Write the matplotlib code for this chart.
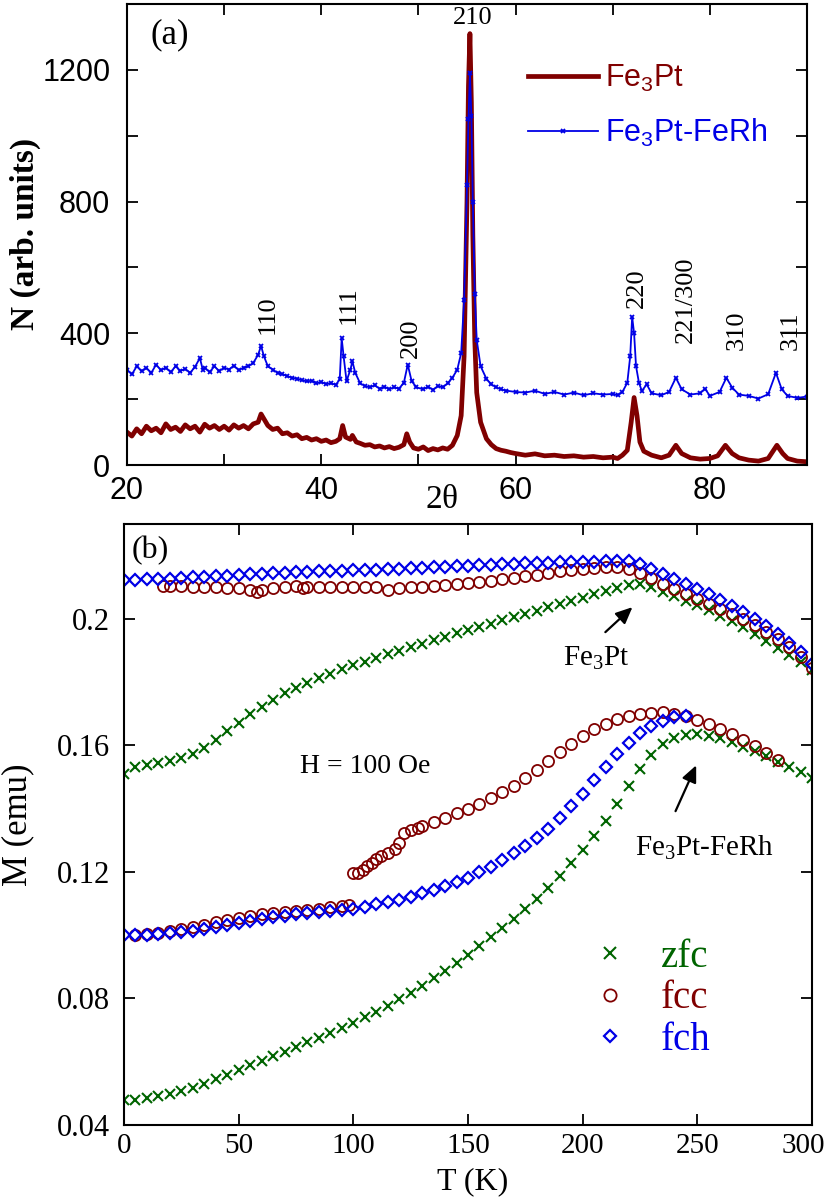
import matplotlib
matplotlib.use('Agg')
import matplotlib.pyplot as plt
from matplotlib.ticker import MultipleLocator

plt.rcParams['font.family'] = 'Liberation Serif'
plt.rcParams['mathtext.default'] = 'regular'

RED = '#800000'
BLUE = '#0000e6'
GREEN = '#006400'

# ---- panel (a): XRD ----
tt_pt = [20, 20.5, 21, 21.5, 22, 22.5, 23, 23.5, 24, 24.5, 25, 25.5, 26, 26.5, 27, 27.5, 28, 28.5, 29, 29.5,
         30, 30.5, 31, 31.5, 32, 32.5, 33, 33.5, 33.8, 34.1, 34.5, 35, 35.5, 36, 36.5, 37, 37.5, 38, 38.5, 39, 39.5,
         40, 40.5, 41, 41.5, 41.9, 42.2, 42.5, 43, 43.2, 43.6, 44, 44.5, 45, 45.5, 46, 46.5, 47, 47.5, 48, 48.5, 48.8, 49.1, 49.5,
         50, 50.5, 51, 51.5, 52, 52.5, 53, 53.5, 54, 54.4, 54.7, 55.0, 55.15, 55.3, 55.45, 55.6, 55.8, 56.0, 56.4, 57, 57.5, 58, 58.5, 59, 59.5,
         60, 61, 62, 63, 64, 65, 66, 67, 68, 69, 70, 70.5, 71, 71.5, 71.9, 72.2, 72.5, 72.8, 73.2, 74, 75, 75.8, 76.5, 77.1, 78, 79,
         80, 80.8, 81.6, 82.3, 83, 84, 85, 86, 86.9, 87.5, 88, 89, 90]
counts_pt = [100, 88, 110, 95, 118, 104, 112, 98, 125, 108, 115, 102, 122, 110, 118, 100, 124, 112, 120, 108,
             118, 106, 122, 112, 120, 110, 125, 130, 155, 140, 120, 108, 112, 95, 98, 88, 92, 80, 84, 76, 80,
             72, 76, 68, 72, 80, 120, 85, 78, 90, 70, 66, 60, 62, 55, 58, 52, 56, 50, 54, 62, 95, 70, 52,
             48, 55, 44, 50, 46, 52, 48, 60, 90, 150, 330, 800, 1150, 1310, 1100, 700, 380, 220, 130, 80, 62, 50, 45, 42, 38,
             35, 30, 34, 28, 30, 26, 28, 24, 26, 22, 24, 20, 30, 45, 130, 205, 150, 70, 42, 30, 22, 30, 60, 35, 22, 18,
             20, 28, 60, 35, 22, 15, 12, 20, 60, 35, 20, 12, 10]

tt_rh = [20, 20.5, 21, 21.5, 22, 22.5, 23, 23.5, 24, 24.5, 25, 25.5, 26, 26.5, 27, 27.5, 27.8, 28, 28.5, 29, 29.5,
         30, 30.5, 31, 31.5, 32, 32.5, 33, 33.5, 33.8, 34.1, 34.5, 35, 35.5, 36, 36.5, 37, 37.5, 38, 38.5, 39, 39.5,
         40, 40.5, 41, 41.5, 41.9, 42.1, 42.3, 42.6, 43.0, 43.2, 43.5, 44, 44.5, 45, 45.5, 46, 46.5, 47, 47.5, 48, 48.5, 48.9, 49.3, 49.8,
         50.5, 51, 51.5, 52, 52.5, 53, 53.5, 54, 54.4, 54.7, 55.0, 55.15, 55.3, 55.45, 55.6, 55.8, 56.0, 56.4, 57, 57.5, 58, 58.5, 59,
         60, 61, 62, 63, 64, 65, 66, 67, 68, 69, 70, 70.5, 71, 71.5, 71.8, 72.0, 72.2, 72.4, 72.7, 73.0, 73.5, 74, 75, 75.8, 76.5, 77.1, 78, 79, 79.5,
         80, 81, 81.7, 82.3, 83, 84, 85, 86, 86.8, 87.4, 88, 89, 90]
counts_rh = [290, 275, 300, 285, 295, 280, 305, 288, 296, 282, 300, 286, 292, 280, 298, 325, 290, 296, 282, 300, 285,
             296, 290, 302, 288, 296, 300, 310, 335, 362, 330, 300, 290, 280, 276, 270, 265, 262, 258, 254, 256, 248,
             252, 246, 248, 244, 260, 385, 330, 255, 290, 315, 280, 248, 240, 236, 242, 232, 238, 230, 236, 232, 250, 305, 255, 236,
             230, 238, 228, 240, 236, 248, 265, 290, 340, 500, 850, 1050, 1190, 1060, 800, 520, 380, 300, 262, 245, 236, 230, 226,
             222, 220, 226, 216, 222, 214, 220, 212, 218, 214, 216, 212, 222, 250, 330, 450, 400, 300, 250, 225, 245, 218, 212, 222, 265, 230, 214, 218, 232,
             210, 222, 265, 235, 214, 210, 202, 215, 280, 230, 210, 204, 208]

peak_labels = ['110', '111', '200', '220', '221/300', '310', '311']
peak_x = [34.5, 42.8, 49.2, 72.5, 77.5, 82.8, 88.3]
peak_y = [398, 429, 326, 477, 371, 350, 350]

# ---- panel (b): M(T) ----
T5 = [0, 5, 10, 15, 20, 25, 30, 35, 40, 45, 50, 55, 60, 65, 70, 75, 80, 85, 90, 95,
      100, 105, 110, 115, 120, 125, 130, 135, 140, 145, 150, 155, 160, 165, 170, 175, 180, 185, 190, 195,
      200, 205, 210, 215, 220, 225, 230, 235, 240, 245, 250, 255, 260, 265, 270, 275, 280, 285, 290, 295, 300]

zfc_low = [0.0478, 0.0480, 0.0484, 0.0490, 0.0497, 0.0506, 0.0517, 0.0530, 0.0544, 0.0559,
           0.0575, 0.0589, 0.0603, 0.0617, 0.0631, 0.0646, 0.0661, 0.0676, 0.0691, 0.0706,
           0.0722, 0.0740, 0.0758, 0.0777, 0.0797, 0.0818, 0.0840, 0.0863, 0.0887, 0.0912,
           0.0938, 0.0965, 0.0993, 0.1022, 0.1052, 0.1083, 0.1115, 0.1150, 0.1187, 0.1227,
           0.1270, 0.1315, 0.1362, 0.1415, 0.1470, 0.1525, 0.1570, 0.1603, 0.1622, 0.1632,
           0.1635, 0.1630, 0.1622, 0.1610, 0.1596, 0.1582, 0.1566, 0.1549, 0.1532, 0.1515,
           0.1497]
zfc_high = [0.1510, 0.1533, 0.1538, 0.1543, 0.1550, 0.1560, 0.1574, 0.1593, 0.1617, 0.1645,
            0.1672, 0.1698, 0.1722, 0.1744, 0.1764, 0.1782, 0.1798, 0.1813, 0.1827, 0.1840,
            0.1853, 0.1865, 0.1877, 0.1888, 0.1899, 0.1910, 0.1921, 0.1932, 0.1943, 0.1954,
            0.1964, 0.1975, 0.1985, 0.1995, 0.2005, 0.2016, 0.2026, 0.2036, 0.2046, 0.2057,
            0.2067, 0.2078, 0.2088, 0.2098, 0.2106, 0.2110, 0.2100, 0.2086, 0.2072, 0.2058,
            0.2043, 0.2027, 0.2010, 0.1992, 0.1973, 0.1952, 0.1930, 0.1908, 0.1886, 0.1862,
            0.1838]
fch_high = [0.2124, 0.2124, 0.2125, 0.2126, 0.2127, 0.2129, 0.2131, 0.2133, 0.2135, 0.2137,
            0.2139, 0.2141, 0.2142, 0.2144, 0.2145, 0.2147, 0.2148, 0.2150, 0.2151, 0.2152,
            0.2153, 0.2155, 0.2156, 0.2157, 0.2158, 0.2160, 0.2161, 0.2163, 0.2164, 0.2166,
            0.2167, 0.2169, 0.2170, 0.2172, 0.2173, 0.2175, 0.2177, 0.2178, 0.2179, 0.2180,
            0.2181, 0.2181, 0.2182, 0.2183, 0.2182, 0.2172, 0.2158, 0.2143, 0.2127, 0.2111,
            0.2095, 0.2078, 0.2061, 0.2042, 0.2022, 0.2000, 0.1976, 0.1951, 0.1925, 0.1894,
            0.1858]

T_fch_low = T5[:50]
fch_low = [0.1000, 0.1000, 0.1001, 0.1004, 0.1007, 0.1010, 0.1014, 0.1020, 0.1026, 0.1033,
           0.1040, 0.1046, 0.1052, 0.1057, 0.1062, 0.1066, 0.1070, 0.1074, 0.1077, 0.1080,
           0.1084, 0.1090, 0.1097, 0.1104, 0.1112, 0.1122, 0.1133, 0.1143, 0.1154, 0.1167,
           0.1182, 0.1199, 0.1217, 0.1237, 0.1259, 0.1283, 0.1308, 0.1337, 0.1370, 0.1407,
           0.1447, 0.1489, 0.1531, 0.1572, 0.1608, 0.1638, 0.1661, 0.1678, 0.1689, 0.1692]

T_fcc_high = [17, 20, 25, 30, 35, 40, 45, 50, 55, 58, 60, 65, 70, 75, 78, 80, 85, 90, 95, 100,
              105, 110, 115, 120, 125, 130, 135, 140, 145, 150, 155, 160, 165, 170, 175, 180, 185, 190, 195, 200,
              205, 210, 215, 220, 225, 230, 235, 240, 245, 250, 255, 260, 265, 270, 275, 280, 285, 290, 295, 300]
fcc_high = [0.2105, 0.2104, 0.2103, 0.2102, 0.2101, 0.2100, 0.2098, 0.2097, 0.2092, 0.2086,
            0.2092, 0.2096, 0.2100, 0.2104, 0.2098, 0.2101, 0.2101, 0.2101, 0.2102, 0.2102,
            0.2102, 0.2100, 0.2091, 0.2097, 0.2100, 0.2102, 0.2105, 0.2107, 0.2109, 0.2112,
            0.2116, 0.2120, 0.2125, 0.2130, 0.2135, 0.2140, 0.2145, 0.2150, 0.2155, 0.2159,
            0.2162, 0.2165, 0.2165, 0.2158, 0.2146, 0.2128, 0.2110, 0.2094, 0.2078, 0.2062,
            0.2047, 0.2032, 0.2016, 0.2000, 0.1980, 0.1958, 0.1935, 0.1910, 0.1880, 0.1845]

T_fcc_low = [5, 10, 15, 20, 25, 30, 35, 40, 45, 50, 55, 60, 65, 70, 75, 80, 85, 90, 95, 98,
             100, 102, 104, 106, 108, 110, 112, 115, 118, 120, 122, 125, 128, 130,
             135, 140, 145, 150, 155, 160, 165, 170, 175, 180, 185, 190, 195, 200, 205, 210,
             215, 220, 225, 230, 235, 240, 245, 250, 255, 260, 265, 270, 275, 280, 285]
fcc_low = [0.1000, 0.1003, 0.1007, 0.1012, 0.1018, 0.1025, 0.1033, 0.1041, 0.1048, 0.1055,
           0.1061, 0.1066, 0.1070, 0.1073, 0.1076, 0.1080, 0.1084, 0.1088, 0.1092, 0.1094,
           0.1196, 0.1197, 0.1205, 0.1220, 0.1228, 0.1240, 0.1250, 0.1260, 0.1272, 0.1290,
           0.1322, 0.1334, 0.1340, 0.1345,
           0.1357, 0.1370, 0.1385, 0.1400, 0.1416, 0.1433, 0.1452, 0.1473, 0.1497, 0.1523,
           0.1550, 0.1578, 0.1605, 0.1630, 0.1651, 0.1668, 0.1682, 0.1692, 0.1699, 0.1703,
           0.1704, 0.1700, 0.1692, 0.1680, 0.1667, 0.1652, 0.1636, 0.1618, 0.1598, 0.1576,
           0.1555]

m_ticks = [0.04, 0.08, 0.12, 0.16, 0.2]
m_ticklabels = ['0.04', '0.08', '0.12', '0.16', '0.2']
t_ticks = [0, 50, 100, 150, 200, 250, 300]
t_ticklabels = ['0', '50', '100', '150', '200', '250', '']   # '300' drawn by hand below

fig = plt.figure(figsize=(8.3, 12.02), dpi=100)
ax1 = fig.add_axes([0.153, 0.6131, 0.8193, 0.3836])
ax2 = fig.add_axes([0.1494, 0.0641, 0.8289, 0.5])

# panel a
ax1.plot(tt_pt, counts_pt, color=RED, lw=3.4, label=r'Fe$_3$Pt')
ax1.plot(tt_rh, counts_rh, color=BLUE, lw=1.3, marker='x', ms=3.5, mew=1.3,
         label=r'Fe$_3$Pt-FeRh')
ax1.set_xlim(20, 90)
ax1.set_ylim(0, 1400)
ax1.xaxis.set_major_locator(MultipleLocator(20))
ax1.xaxis.set_minor_locator(MultipleLocator(10))
ax1.yaxis.set_major_locator(MultipleLocator(400))
ax1.yaxis.set_minor_locator(MultipleLocator(200))
for lab, px, py in zip(peak_labels, peak_x, peak_y):
    ax1.text(px, py, lab, rotation=90, ha='center', va='bottom', fontsize=19)
ax1.text(55.6, 1356, '210', ha='center', va='center', fontsize=19)
leg1 = ax1.legend(loc='upper left', bbox_to_anchor=(0.59, 0.873), frameon=False,
                  prop={'family': 'Liberation Sans', 'size': 22}, handlelength=2.3,
                  handletextpad=0.2, borderpad=0, borderaxespad=0, labelspacing=0.75)
for t, c in zip(leg1.get_texts(), [RED, BLUE]):
    t.set_color(c)

# panel b
ax2.plot(T5, zfc_low, ls='none', marker='x', ms=7.5, mew=1.5, color=GREEN, label='zfc')
ax2.plot(T5, zfc_high, ls='none', marker='x', ms=7.5, mew=1.5, color=GREEN)
ax2.plot(T_fcc_low, fcc_low, ls='none', marker='o', ms=8, mfc='none', mew=1.3, color=RED, label='fcc')
ax2.plot(T_fcc_high, fcc_high, ls='none', marker='o', ms=8, mfc='none', mew=1.3, color=RED)
ax2.plot(T_fch_low, fch_low, ls='none', marker='D', ms=6, mfc='none', mew=1.6, color=BLUE, label='fch')
ax2.plot(T5, fch_high, ls='none', marker='D', ms=6, mfc='none', mew=1.6, color=BLUE)
ax2.set_xlim(0, 300)
ax2.set_ylim(0.04, 0.23)
ax2.set_xticks(t_ticks)
ax2.set_xticklabels(t_ticklabels)
ax2.set_yticks(m_ticks)
ax2.set_yticklabels(m_ticklabels)
# last T label sits against the figure edge, nudged left a little
ax2.annotate('300', xy=(300, 0), xycoords=('data', 'axes fraction'),
             xytext=(-6, -6), textcoords='offset points', ha='center', va='top',
             fontsize=21)

ax2.annotate('', xy=(222.6, 0.2043), xytext=(209, 0.1952),
             arrowprops=dict(arrowstyle='-|>,head_length=1.0,head_width=0.45', color='black', lw=1.6))
ax2.annotate('', xy=(250, 0.1545), xytext=(240, 0.1384),
             arrowprops=dict(arrowstyle='-|>,head_length=1.0,head_width=0.45', color='black', lw=1.6))
ax2.text(206, 0.1851, r'Fe$_3$Pt', ha='center', va='baseline', fontsize=21)
ax2.text(253, 0.1252, r'Fe$_3$Pt-FeRh', ha='center', va='baseline', fontsize=21)
ax2.text(105, 0.1514, 'H = 100 Oe', ha='center', va='baseline', fontsize=20)

leg2 = ax2.legend(loc='upper left', bbox_to_anchor=(0.69, 0.31), frameon=False,
                  fontsize=28, handlelength=0.6, handletextpad=1.0, borderpad=0,
                  borderaxespad=0, labelspacing=0.12, markerscale=1.1)
for t, c in zip(leg2.get_texts(), [GREEN, RED, BLUE]):
    t.set_color(c)

for ax in (ax1, ax2):
    for s in ax.spines.values():
        s.set_linewidth(1.5)
    ax.tick_params(which='both', direction='in', top=True, right=True, length=8, width=1.3)

ax1.tick_params(axis='x', pad=8)
ax1.tick_params(axis='y', pad=12)
for lab in ax1.get_xticklabels() + ax1.get_yticklabels():
    lab.set_family('Liberation Sans')
    lab.set_fontsize(22)
ax2.tick_params(axis='x', pad=6, labelsize=21)
ax2.tick_params(axis='y', pad=10, labelsize=22)

fig.text(0.03, 0.805, 'N (arb. units)', rotation=90, ha='center', va='center',
         fontsize=24, fontweight='bold')
fig.text(0.5325, 0.584, r'2$\theta$', ha='center', va='center', fontsize=24)
fig.text(0.181, 0.985, '(a)', ha='left', va='top', fontsize=25)
fig.text(0.022, 0.314, 'M (emu)', rotation=90, ha='center', va='center', fontsize=25)
fig.text(0.569, 0.017, 'T (K)', ha='center', va='center', fontsize=23)
fig.text(0.159, 0.554, '(b)', ha='left', va='top', fontsize=23)

fig.savefig('out.png', dpi=100)
